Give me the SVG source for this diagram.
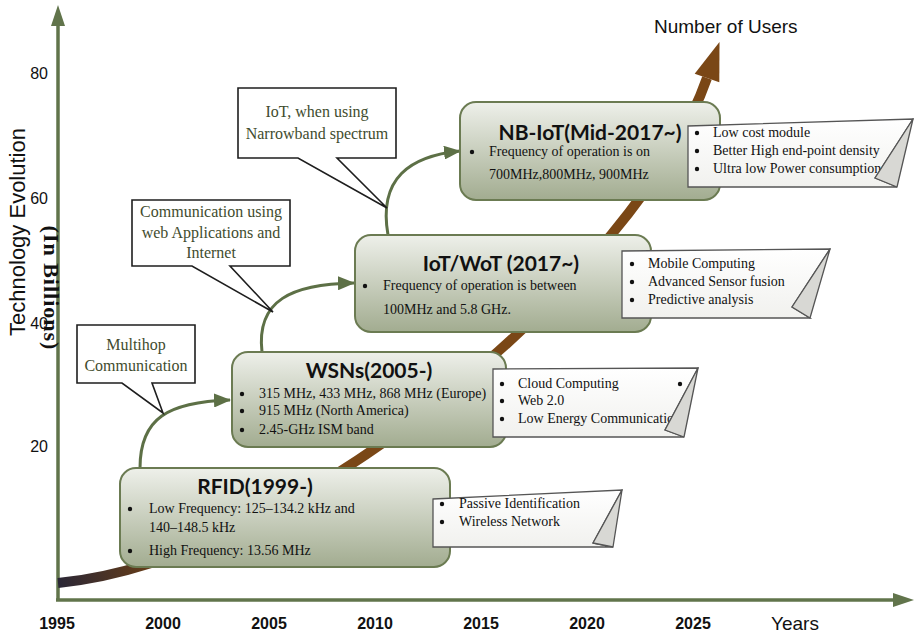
<svg xmlns="http://www.w3.org/2000/svg" width="915" height="634" viewBox="0 0 915 634">
  <defs>
    <linearGradient id="boxFill" x1="0" y1="0" x2="0" y2="1">
      <stop offset="0" stop-color="#eef0ea"/>
      <stop offset="1" stop-color="#a2ac90"/>
    </linearGradient>
    <linearGradient id="noteFill" x1="0" y1="0" x2="0" y2="1">
      <stop offset="0" stop-color="#ffffff"/>
      <stop offset="1" stop-color="#f1f1ee"/>
    </linearGradient>
    <linearGradient id="userTrend" gradientUnits="userSpaceOnUse" x1="58" y1="583" x2="230" y2="530">
      <stop offset="0" stop-color="#2a2736"/>
      <stop offset="0.55" stop-color="#6a3e16"/>
      <stop offset="1" stop-color="#7a4716"/>
    </linearGradient>
    <marker id="greenHead" markerUnits="userSpaceOnUse" markerWidth="17" markerHeight="14" refX="16" refY="7" orient="auto" viewBox="0 0 17 14">
      <path d="M0,0 L17,7 L0,14 z" fill="#5d7046"/>
    </marker>
    <style>
      .axis { stroke: #61744b; stroke-width: 3.5; fill: none; }
      .axisHead { fill: #61744b; }
      .tick { font-family: "Liberation Sans", Arial, sans-serif; font-size: 16px; fill: #111; }
      .year { font-family: "Liberation Sans", Arial, sans-serif; font-size: 16px; font-weight: bold; fill: #111; text-anchor: middle; }
      .box { fill: url(#boxFill); stroke: #6b7b52; stroke-width: 2; }
      .title { font-family: Lato, "Open Sans", sans-serif; font-weight: bold; font-size: 21px; fill: #111; text-anchor: middle; }
      .body { font-family: "Liberation Serif", "Times New Roman", serif; font-size: 14px; fill: #111; }
      .dot { fill: #111; }
      .note { fill: url(#noteFill); stroke: #555; stroke-width: 1.3; }
      .fold { fill: #d8d8d4; stroke: #555; stroke-width: 1.3; stroke-linejoin: round; }
      .callout { fill: #fff; stroke: #1e1e1e; stroke-width: 1.6; }
      .calloutText { font-family: "Liberation Serif", "Times New Roman", serif; font-size: 16px; fill: #3f4c2e; text-anchor: middle; }
      .link { fill: none; stroke: #5d7046; stroke-width: 3; marker-end: url(#greenHead); }
    </style>
  </defs>

  <!-- axes -->
  <g id="axes">
    <line class="axis" x1="58" y1="601" x2="58" y2="22"/>
    <polygon class="axisHead" points="58,5 51,26 65,26"/>
    <line class="axis" x1="56" y1="600" x2="896" y2="600"/>
    <polygon class="axisHead" points="914,600 893,593 893,607"/>
  </g>

  <!-- growth in number of users -->
  <g id="users-trend">
    <path d="M58,583 C300,560 640,270 707,78" fill="none" stroke="url(#userTrend)" stroke-width="10"/>
    <polygon points="719.5,42 719.3,82.3 694.7,73.7" fill="#7a4716"/>
    <text x="654" y="33" font-family="'Liberation Sans', Arial, sans-serif" font-size="19" fill="#111">Number of Users</text>
  </g>

  <!-- connectors between technology stages -->
  <g id="connectors">
    <path class="link" d="M140,468 C140,418 168,402 230,400"/>
    <path class="link" d="M262,352 C256,300 292,284 354,283"/>
    <path class="link" d="M388,235 C378,178 410,156 460,151"/>
  </g>

  <g id="rfid">
    <rect class="box" x="120" y="468" width="330" height="99" rx="16"/>
    <text class="title" x="255" y="494">RFID(1999-)</text>
    <circle class="dot" cx="130" cy="509" r="2.2"/>
    <text class="body" x="149" y="513">Low Frequency: 125–134.2 kHz and</text>
    <text class="body" x="149" y="532">140–148.5 kHz</text>
    <circle class="dot" cx="130" cy="551" r="2.2"/>
    <text class="body" x="149" y="555">High Frequency: 13.56 MHz</text>
  </g>

  <g id="wsns">
    <rect class="box" x="232" y="352" width="274" height="95" rx="16"/>
    <text class="title" x="369" y="378">WSNs(2005-)</text>
    <circle class="dot" cx="242" cy="394" r="2.2"/>
    <text class="body" x="259" y="398">315 MHz, 433 MHz, 868 MHz (Europe)</text>
    <circle class="dot" cx="242" cy="411" r="2.2"/>
    <text class="body" x="259" y="415">915 MHz (North America)</text>
    <circle class="dot" cx="242" cy="430" r="2.2"/>
    <text class="body" x="259" y="434">2.45-GHz ISM band</text>
  </g>

  <g id="iot-wot">
    <rect class="box" x="355" y="235" width="296" height="97" rx="16"/>
    <text class="title" x="501" y="271">IoT/WoT (2017~)</text>
    <circle class="dot" cx="365" cy="286" r="2.2"/>
    <text class="body" x="383" y="290">Frequency of operation is  between</text>
    <text class="body" x="383" y="314">100MHz and 5.8 GHz.</text>
  </g>

  <g id="nb-iot">
    <rect class="box" x="460" y="102" width="260" height="98" rx="16"/>
    <text class="title" x="590" y="140">NB-IoT(Mid-2017~)</text>
    <circle class="dot" cx="472" cy="152" r="2.2"/>
    <text class="body" x="489" y="156">Frequency of operation is on</text>
    <text class="body" x="489" y="179">700MHz,800MHz, 900MHz</text>
  </g>

  <!-- feature notes with folded corner -->
  <g id="note-rfid">
    <polygon class="note" points="433,499 622,490 593,543 613,547 433,547"/>
    <circle class="dot" cx="442" cy="504" r="2.2"/>
    <text class="body" x="459" y="508">Passive Identification</text>
    <circle class="dot" cx="442" cy="522" r="2.2"/>
    <text class="body" x="459" y="526">Wireless Network</text>
    <polygon class="fold" points="622,490 593,543 613,547"/>
  </g>

  <g id="note-wsns">
    <polygon class="note" points="493,369 698,368 665,430 684,437 493,437"/>
    <circle class="dot" cx="502" cy="384" r="2.2"/>
    <text class="body" x="518" y="388">Cloud Computing</text>
    <circle class="dot" cx="680" cy="384" r="2.2"/>
    <circle class="dot" cx="502" cy="401" r="2.2"/>
    <text class="body" x="518" y="405">Web 2.0</text>
    <circle class="dot" cx="502" cy="419" r="2.2"/>
    <text class="body" x="518" y="423">Low Energy Communication</text>
    <polygon class="fold" points="698,368 665,430 684,437"/>
  </g>

  <g id="note-iot-wot">
    <polygon class="note" points="622,251 830,249 792,307 810,318 622,318"/>
    <circle class="dot" cx="632" cy="264" r="2.2"/>
    <text class="body" x="648" y="268">Mobile Computing</text>
    <circle class="dot" cx="632" cy="282" r="2.2"/>
    <text class="body" x="648" y="286">Advanced Sensor fusion</text>
    <circle class="dot" cx="632" cy="300" r="2.2"/>
    <text class="body" x="648" y="304">Predictive analysis</text>
    <polygon class="fold" points="830,249 792,307 810,318"/>
  </g>

  <g id="note-nb-iot">
    <polygon class="note" points="688,126 913,119 875,178 897,187 688,187"/>
    <circle class="dot" cx="697" cy="133" r="2.2"/>
    <text class="body" x="713" y="137">Low cost module</text>
    <circle class="dot" cx="697" cy="151" r="2.2"/>
    <text class="body" x="713" y="155">Better High end-point density</text>
    <circle class="dot" cx="697" cy="169" r="2.2"/>
    <text class="body" x="713" y="173">Ultra low Power consumption</text>
    <polygon class="fold" points="913,119 875,178 897,187"/>
  </g>

  <!-- speech callouts -->
  <g id="callout-multihop">
    <polygon class="callout" points="77,325 195,325 195,383 152,383 163,413 122,383 77,383"/>
    <text class="calloutText" x="136" y="350">Multihop</text>
    <text class="calloutText" x="136" y="371">Communication</text>
  </g>

  <g id="callout-web">
    <polygon class="callout" points="132,200 290,200 290,266 230,266 273,312 192,266 132,266"/>
    <text class="calloutText" x="211" y="217">Communication using</text>
    <text class="calloutText" x="211" y="238">web Applications and</text>
    <text class="calloutText" x="211" y="258">Internet</text>
  </g>

  <g id="callout-narrowband">
    <polygon class="callout" points="238,88 396,88 396,158 337,158 387,208 298,158 238,158"/>
    <text class="calloutText" x="317" y="117">IoT, when using</text>
    <text class="calloutText" x="317" y="139">Narrowband spectrum</text>
  </g>

  <!-- axis labels -->
  <g id="axis-labels">
    <text class="tick" x="48" y="79" text-anchor="end">80</text>
    <text class="tick" x="48" y="204" text-anchor="end">60</text>
    <text class="tick" x="48" y="329" text-anchor="end">40</text>
    <text class="tick" x="48" y="452" text-anchor="end">20</text>
    <text transform="translate(25,232) rotate(-90)" text-anchor="middle" font-family="'Liberation Sans', Arial, sans-serif" font-size="22" fill="#111">Technology Evolution</text>
    <text transform="translate(44,288) rotate(90)" text-anchor="middle" font-family="'Liberation Serif', 'Times New Roman', serif" font-weight="bold" font-size="22" letter-spacing="1" fill="#111">(In Billions)</text>
    <text class="year" x="57" y="629">1995</text>
    <text class="year" x="163" y="629">2000</text>
    <text class="year" x="269" y="629">2005</text>
    <text class="year" x="375" y="629">2010</text>
    <text class="year" x="481" y="629">2015</text>
    <text class="year" x="587" y="629">2020</text>
    <text class="year" x="693" y="629">2025</text>
    <text x="795" y="630" text-anchor="middle" font-family="'Liberation Sans', Arial, sans-serif" font-size="19" fill="#111">Years</text>
  </g>
</svg>
